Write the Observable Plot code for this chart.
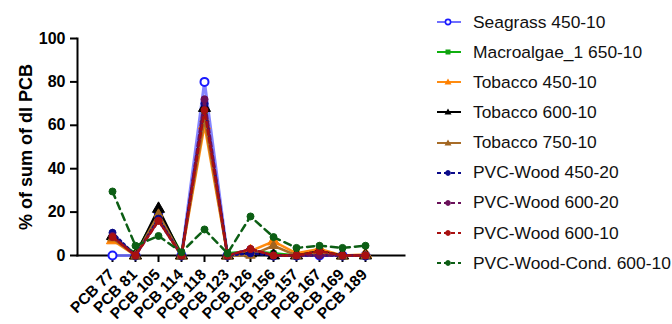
<!DOCTYPE html>
<html><head><meta charset="utf-8">
<script src="https://cdn.jsdelivr.net/npm/d3@7"></script>
<script src="https://cdn.jsdelivr.net/npm/@observablehq/plot@0.6"></script>
<style>
body{margin:0;background:#fff;font-family:"Liberation Sans",Arial,sans-serif;}
#wrap{position:relative;width:672px;height:324px;}
#legend{position:absolute;left:436px;top:7px;}
.item{display:flex;align-items:center;height:30.15px;font-size:17.4px;color:#111;}
.item svg{margin-right:11px;}
</style></head><body>
<div id="wrap"><div id="chart"></div><div id="legend"></div></div>
<script>
const categories = ["PCB 77","PCB 81","PCB 105","PCB 114","PCB 118","PCB 123","PCB 126","PCB 156","PCB 157","PCB 167","PCB 169","PCB 189"];
const seriesNames = ["Seagrass 450-10","Macroalgae_1 650-10","Tobacco 450-10","Tobacco 600-10","Tobacco 750-10","PVC-Wood 450-20","PVC-Wood 600-20","PVC-Wood 600-10","PVC-Wood-Cond. 600-10"];
const seagrass      = [0, 0, 20, 0, 80, 0, 2, 0, 0, 0, 0, 0];
const macroalgae    = [8, 1, 20, 1, 65, 1, 2, 1, 0, 1, 0, 0];
const tobacco450    = [7, 0, 18, 0, 60, 0, 2, 6.5, 1, 3, 0, 0.5];
const tobacco600    = [9, 0, 21.5, 0, 68, 0, 1, 0, 0, 2, 0, 0];
const tobacco750    = [8, 0, 19, 0, 63, 0, 0, 4.5, 0, 1, 0, 0];
const pvc450_20     = [10.5, 0, 17, 0, 70, 0, 1, 0, 0, 0, 0, 0];
const pvc600_20     = [9, 0, 16, 0, 72, 0, 3, 0, 0, 0, 0, 0];
const pvc600_10     = [8.5, 0, 16, 0, 67, 0, 3, 0, 0, 2, 0, 0];
const pvcCond600_10 = [29.5, 4.5, 9, 1.5, 12, 1, 18, 8.5, 3.5, 4.5, 3.5, 4.5];
const yTicks = [0, 20, 40, 60, 80, 100];

const values = [seagrass, macroalgae, tobacco450, tobacco600, tobacco750, pvc450_20, pvc600_20, pvc600_10, pvcCond600_10];
const styles = [
  {line:"#6f6fff", mark:"#1a1aff", symbol:"circle", fill:"white", r:4, dash:null, sw:3},
  {line:"#10b010", mark:"#10a010", symbol:"square", fill:"#10a010", r:3, dash:null, sw:2.5},
  {line:"#ff8c10", mark:"#ff8000", symbol:"triangle", fill:"#ff8000", r:4.5, dash:null, sw:2.5},
  {line:"#000000", mark:"#000000", symbol:"triangle", fill:"#000000", r:4.5, dash:null, sw:2.5},
  {line:"#a86d28", mark:"#a06420", symbol:"triangle", fill:"#a06420", r:3.5, dash:null, sw:2.5},
  {line:"#0a0a8a", mark:"#0a0a8a", symbol:"circle", fill:"#0a0a8a", r:3.5, dash:"2,3", sw:2.5},
  {line:"#6a105a", mark:"#6a105a", symbol:"circle", fill:"#6a105a", r:3.5, dash:"4,3", sw:2.5},
  {line:"#a81010", mark:"#a81010", symbol:"circle", fill:"#a81010", r:3.5, dash:"5,3", sw:2.5},
  {line:"#0c5e14", mark:"#0c5e14", symbol:"circle", fill:"#0c5e14", r:3.5, dash:"7,5", sw:2.5}
];

const rows = [];
seriesNames.forEach((s, i) => categories.forEach((c, j) => rows.push({series: s, idx: i, cat: c, value: values[i][j]})));

const marks = [];
seriesNames.forEach((s, i) => {
  const d = rows.filter(r => r.idx === i);
  const st = styles[i];
  marks.push(Plot.line(d, {x: "cat", y: "value", stroke: st.line, strokeWidth: st.sw, strokeDasharray: st.dash, strokeOpacity: i === 0 ? 0.85 : 1}));
  marks.push(Plot.dot(d, {x: "cat", y: "value", symbol: st.symbol, r: st.r, stroke: st.mark, fill: st.fill, strokeWidth: i === 0 ? 2 : 1}));
});

const chart = Plot.plot({
  width: 430, height: 324,
  marginLeft: 77, marginRight: 26, marginTop: 38, marginBottom: 69,
  x: {type: "point", domain: categories, range: [95, 381]},
  y: {domain: [0, 100]},
  style: {fontFamily: "'Liberation Sans', Arial, sans-serif", color: "#000", background: "white"},
  marks: [
    Plot.axisY({ticks: yTicks, tickSize: 7, tickPadding: 5, strokeWidth: 2, fontSize: 16, fontWeight: "bold",
      label: "% of sum of dl PCB", labelAnchor: "center", labelArrow: "none", labelOffset: 58}),
    Plot.axisX({tickSize: 7, strokeWidth: 2, tickFormat: () => "", label: null}),
    Plot.text(categories, {x: d => d, frameAnchor: "bottom", rotate: -45, textAnchor: "end", lineAnchor: "middle",
      dx: -1, dy: 16.5, fontSize: 15.5, fontWeight: "bold", fill: "#000"}),
    Plot.frame({anchor: "left", strokeWidth: 2}),
    Plot.frame({anchor: "bottom", strokeWidth: 2}),
    ...marks
  ]
});
d3.select(chart).selectAll("g[aria-label='y-axis label'] text").style("font-size", "18px").style("font-weight", "bold");
d3.select(chart).selectAll("g[aria-label='text'] text").attr("text-anchor", "end").style("text-anchor", "end");
document.getElementById("chart").appendChild(chart);

const legend = document.getElementById("legend");
seriesNames.forEach((s, i) => {
  const st = styles[i];
  const item = document.createElement("div");
  item.className = "item";
  let sym;
  if (st.symbol === "circle") sym = `<circle cx="12" cy="7" r="${i===0?2.6:2.4}" fill="${st.fill}" stroke="${st.mark}" stroke-width="${i===0?1.6:1}"/>`;
  else if (st.symbol === "square") sym = `<rect x="9.5" y="4.5" width="5" height="5" fill="${st.fill}"/>`;
  else sym = `<path d="M12,3.5 L15.5,9.5 L8.5,9.5 Z" fill="${st.fill}"/>`;
  item.innerHTML = `<svg width="26" height="14"><line x1="1" y1="7" x2="25" y2="7" stroke="${st.line}" stroke-width="2" ${st.dash ? `stroke-dasharray="${i>=5?'4,3':st.dash}"` : ""}/>${sym}</svg><span>${s}</span>`;
  legend.appendChild(item);
});
</script>
</body></html>
